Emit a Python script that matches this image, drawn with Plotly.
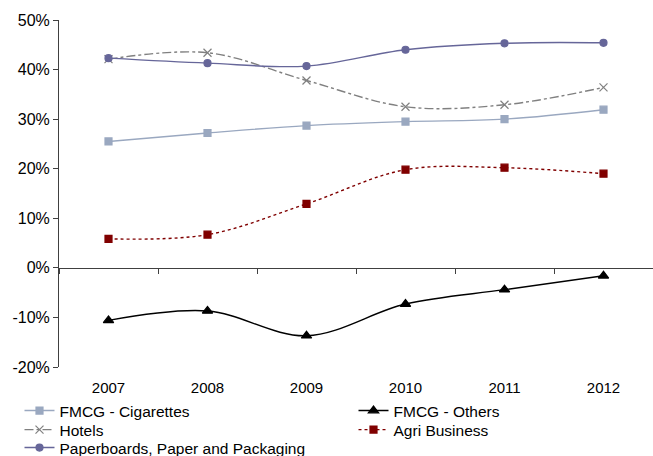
import plotly.graph_objects as go

years = ["2007", "2008", "2009", "2010", "2011", "2012"]

fmcg_cigarettes = [25.5, 27.2, 28.7, 29.5, 30.0, 31.9]
fmcg_others = [-10.6, -8.7, -13.7, -7.3, -4.4, -1.6]
hotels = [42.1, 43.4, 37.8, 32.5, 32.9, 36.4]
agri_business = [5.85, 6.7, 12.9, 19.8, 20.2, 19.0]
paperboards = [42.3, 41.3, 40.7, 44.0, 45.3, 45.4]

y_ticks = [-20, -10, 0, 10, 20, 30, 40, 50]
y_tick_labels = [f"{v}%" for v in y_ticks]

# name, values, line colour, dash, marker symbol, marker size, legend slot
series = [
    ("FMCG - Cigarettes", fmcg_cigarettes, "#9AA8C0", "solid", "square", 7, "legend"),
    ("FMCG - Others", fmcg_others, "#000000", "solid", "triangle-up", 9, "legend2"),
    ("Hotels", hotels, "#808080", "dashdot", "x-thin-open", 8, "legend3"),
    ("Agri Business", agri_business, "#800000", "dot", "square", 7, "legend4"),
    ("Paperboards, Paper and Packaging", paperboards, "#666699", "solid", "circle", 7, "legend5"),
]

fig = go.Figure()
for name, vals, color, dash, symbol, size, leg in series:
    fig.add_trace(go.Scatter(
        x=years, y=vals, name=name, mode="lines+markers", legend=leg,
        line=dict(color=color, width=1.4, dash=dash, shape="spline", smoothing=1),
        marker=dict(symbol=symbol, size=size, color=color,
                    line=dict(color=color, width=1.2)),
    ))

# empty trace so the overlaid zero-line axis (x2) gets drawn
fig.add_trace(go.Scatter(x=[], y=[], xaxis="x2", yaxis="y", showlegend=False,
                         hoverinfo="skip"))

family = "Liberation Sans, Arial, sans-serif"
legend_font = dict(family=family, size=15.5, color="#000000")

# legend grid: two columns, three rows below the plot
col_x = [-0.0665, 0.4958]
row_y = [-0.1268, -0.1816, -0.2334]


def legend_slot(col, row):
    return dict(orientation="h", x=col_x[col], y=row_y[row], xanchor="left",
                yanchor="middle", font=legend_font, bgcolor="rgba(0,0,0,0)",
                borderwidth=0)


fig.update_layout(
    width=653, height=456,
    margin=dict(l=59, r=0, t=20, b=89, autoexpand=False),
    paper_bgcolor="white", plot_bgcolor="white",
    font=dict(family=family, size=14, color="#000000"),
    showlegend=True,
    legend=legend_slot(0, 0),
    legend2=legend_slot(1, 0),
    legend3=legend_slot(0, 1),
    legend4=legend_slot(1, 1),
    legend5=legend_slot(0, 2),
    xaxis=dict(type="category", categoryarray=years, range=[-0.5, 5.5],
               showline=False, ticks="outside", ticklen=7, tickcolor="rgba(0,0,0,0)",
               showgrid=False, zeroline=False,
               tickfont=dict(family=family, size=15, color="#000000")),
    xaxis2=dict(overlaying="x", anchor="free", position=2 / 7, type="linear",
                range=[-0.5, 5.5], tickvals=[-0.5, 0.5, 1.5, 2.5, 3.5, 4.5, 5.5],
                showticklabels=False, ticks="outside", ticklen=5, tickwidth=1,
                tickcolor="#404040", showline=True, linecolor="#404040", linewidth=1,
                showgrid=False, zeroline=False),
    yaxis=dict(range=[-20, 50], tickvals=y_ticks, ticktext=y_tick_labels,
               showline=True, linecolor="#404040", linewidth=1,
               ticks="outside", ticklen=5, tickcolor="#404040",
               showgrid=False, zeroline=False,
               tickfont=dict(family=family, size=16, color="#000000")),
)

fig.write_html("out.html")
